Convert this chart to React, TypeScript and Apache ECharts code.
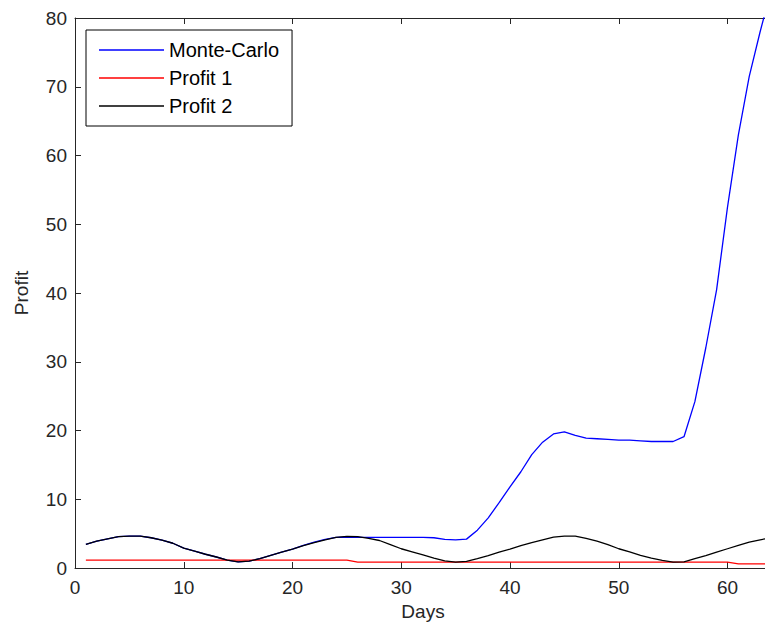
import React, { useEffect, useRef } from "react";
import * as echarts from "echarts";

const days: number[] = Array.from({ length: 64 }, (_, i) => i + 1);

const monteCarlo: number[] = [
  3.45, 3.9, 4.25, 4.55, 4.65, 4.65, 4.4, 4.05, 3.6, 2.9,
  2.45, 2.0, 1.6, 1.15, 0.9, 1.0, 1.35, 1.85, 2.3, 2.75,
  3.3, 3.75, 4.15, 4.45, 4.5, 4.45, 4.45, 4.45, 4.45, 4.45,
  4.45, 4.45, 4.4, 4.15, 4.1, 4.2, 5.5, 7.3, 9.5, 11.8,
  14.0, 16.5, 18.3, 19.5, 19.8, 19.3, 18.9, 18.8, 18.7, 18.6,
  18.6, 18.5, 18.4, 18.4, 18.4, 19.1, 24.2, 32.0, 40.5, 52.5,
  63.0, 71.5, 78.0, 84.0,
];

const profit1: number[] = [
  1.15, 1.15, 1.15, 1.15, 1.15, 1.15, 1.15, 1.15, 1.15, 1.15,
  1.15, 1.15, 1.15, 1.15, 1.15, 1.15, 1.15, 1.15, 1.15, 1.15,
  1.15, 1.15, 1.15, 1.15, 1.15, 0.85, 0.85, 0.85, 0.85, 0.85,
  0.85, 0.85, 0.85, 0.85, 0.85, 0.85, 0.85, 0.85, 0.85, 0.85,
  0.85, 0.85, 0.85, 0.85, 0.85, 0.85, 0.85, 0.85, 0.85, 0.85,
  0.85, 0.85, 0.85, 0.85, 0.85, 0.85, 0.85, 0.85, 0.85, 0.85,
  0.6, 0.6, 0.6, 0.6,
];

const profit2: number[] = [
  3.45, 3.9, 4.25, 4.55, 4.65, 4.65, 4.4, 4.05, 3.6, 2.9,
  2.45, 2.0, 1.6, 1.15, 0.9, 1.0, 1.35, 1.85, 2.3, 2.75,
  3.25, 3.7, 4.1, 4.45, 4.6, 4.55, 4.3, 4.0, 3.4, 2.8,
  2.35, 1.9, 1.45, 1.05, 0.85, 0.95, 1.35, 1.8, 2.3, 2.75,
  3.25, 3.7, 4.1, 4.5, 4.65, 4.65, 4.3, 3.9, 3.4, 2.8,
  2.35, 1.85, 1.45, 1.1, 0.85, 0.9, 1.35, 1.8, 2.3, 2.8,
  3.3, 3.75, 4.1, 4.4,
];

const seriesNames: string[] = ["Monte-Carlo", "Profit 1", "Profit 2"];
const xTicks = { min: 0, max: 64, interval: 10 };
const yTicks = { min: 0, max: 80, interval: 10 };

const FONT = "'Liberation Sans', Arial, sans-serif";
const AXIS_COLOR = "#262626";
const LINE_ICON = "path://M0,0 L65,0 L65,1.5 L0,1.5 Z";

export default function App() {
  const ref = useRef<HTMLDivElement>(null);
  useEffect(() => {
    if (!ref.current) return;
    const chart = echarts.init(ref.current, undefined, { renderer: "svg" });
    const pair = (a: number[]) => days.map((d, i) => [d, a[i]]);
    const baseAxis = {
      axisLine: { show: true, onZero: false, lineStyle: { color: AXIS_COLOR, width: 1 } },
      axisTick: { show: true, inside: true, length: 6, lineStyle: { color: AXIS_COLOR } },
      splitLine: { show: false },
    };
    const labelStyle = { color: AXIS_COLOR, fontSize: 19, fontFamily: FONT };
    chart.setOption({
      animation: false,
      backgroundColor: "#ffffff",
      textStyle: { fontFamily: FONT },
      grid: { left: 75, top: 18, width: 696, height: 550, containLabel: false },
      legend: {
        data: seriesNames.map((n) => ({ name: n, icon: LINE_ICON })),
        orient: "vertical",
        left: 86,
        top: 30,
        itemWidth: 65,
        itemHeight: 20,
        itemGap: 8,
        padding: [10, 13, 10, 13],
        backgroundColor: "#ffffff",
        borderColor: "#000000",
        borderWidth: 1,
        textStyle: { color: "#000", fontSize: 20, fontFamily: FONT, lineHeight: 20 },
      },
      xAxis: [
        {
          type: "value",
          ...xTicks,
          position: "bottom",
          ...baseAxis,
          name: "Days",
          nameLocation: "middle",
          nameGap: 34,
          nameTextStyle: labelStyle,
          axisLabel: { ...labelStyle, margin: 10, showMaxLabel: false },
        },
        {
          type: "value",
          ...xTicks,
          position: "top",
          ...baseAxis,
          axisLabel: { show: false },
        },
      ],
      yAxis: [
        {
          type: "value",
          ...yTicks,
          position: "left",
          ...baseAxis,
          name: "Profit",
          nameLocation: "middle",
          nameGap: 44,
          nameTextStyle: labelStyle,
          axisLabel: { ...labelStyle, margin: 8 },
        },
        {
          type: "value",
          ...yTicks,
          position: "right",
          ...baseAxis,
          axisLabel: { show: false },
        },
      ],
      series: [
        {
          name: seriesNames[0],
          type: "line",
          data: pair(monteCarlo),
          symbol: "none",
          clip: true,
          lineStyle: { color: "#0000ff", width: 1.3 },
          itemStyle: { color: "#0000ff" },
        },
        {
          name: seriesNames[1],
          type: "line",
          data: pair(profit1),
          symbol: "none",
          clip: true,
          lineStyle: { color: "#ff0000", width: 1.3 },
          itemStyle: { color: "#ff0000" },
        },
        {
          name: seriesNames[2],
          type: "line",
          data: pair(profit2),
          symbol: "none",
          clip: true,
          lineStyle: { color: "#000000", width: 1.3 },
          itemStyle: { color: "#000000" },
        },
      ],
    });
    return () => chart.dispose();
  }, []);
  return (
    <div style={{ position: "absolute", left: 0, top: 0, width: 765, height: 627, overflow: "hidden", background: "#fff" }}>
      <div ref={ref} style={{ width: 800, height: 627 }} />
    </div>
  );
}
